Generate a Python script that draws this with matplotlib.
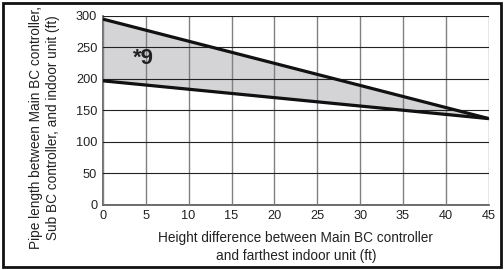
import matplotlib.pyplot as plt
from matplotlib.patches import Rectangle

plt.rcParams['font.family'] = ['Liberation Sans', 'DejaVu Sans']

# data
height_ft = [0, 45]
upper_ft = [295, 137]
lower_ft = [197, 137]
x_ticks = list(range(0, 50, 5))
y_ticks = list(range(0, 350, 50))

fig = plt.figure(figsize=(5.04, 2.70), dpi=100)
ax = fig.add_axes([0.204, 0.241, 0.766, 0.700])

ax.fill_between(height_ft, lower_ft, upper_ft, color='#d4d4d6', zorder=1)
ax.plot(height_ft, upper_ft, color='#111111', linewidth=2.3, zorder=3, solid_capstyle='butt')
ax.plot(height_ft, lower_ft, color='#111111', linewidth=2.3, zorder=3, solid_capstyle='butt')

ax.text(4.7, 233, '*9', fontsize=16, fontweight='bold', ha='center', va='center',
        color='#222222', zorder=4)

ax.set_xlim(0, 45)
ax.set_ylim(0, 300)
ax.set_xticks(x_ticks)
ax.set_yticks(y_ticks)

# vertical grid gray, horizontal grid dark
ax.xaxis.grid(True, color='#808080', linewidth=1.0, zorder=2)
ax.yaxis.grid(True, color='#222222', linewidth=0.8, zorder=2)
ax.set_axisbelow(False)

for s in ['top', 'right']:
    ax.spines[s].set_visible(False)
ax.spines['left'].set_color('#555555')
ax.spines['bottom'].set_color('#555555')
ax.spines['left'].set_linewidth(1.2)
ax.spines['bottom'].set_linewidth(1.2)

ax.tick_params(length=0, labelsize=9.2, colors='#222222', pad=4)

ax.set_xlabel('Height difference between Main BC controller\nand farthest indoor unit (ft)',
              fontsize=9.8, color='#222222', linespacing=1.3, va='top')
ax.set_ylabel('Pipe length between Main BC controller,\nSub BC controller, and indoor unit (ft)',
              fontsize=9.8, color='#222222', linespacing=1.3)
ax.xaxis.set_label_coords(0.5, -0.14)
ax.yaxis.set_label_coords(-0.11, 0.41)

# black frame around whole figure
fig.patches.append(Rectangle((0.006, 0.012), 0.988, 0.978, transform=fig.transFigure,
                             fill=False, edgecolor='#111111', linewidth=2))

plt.savefig('out.png', dpi=100)
plt.close()
